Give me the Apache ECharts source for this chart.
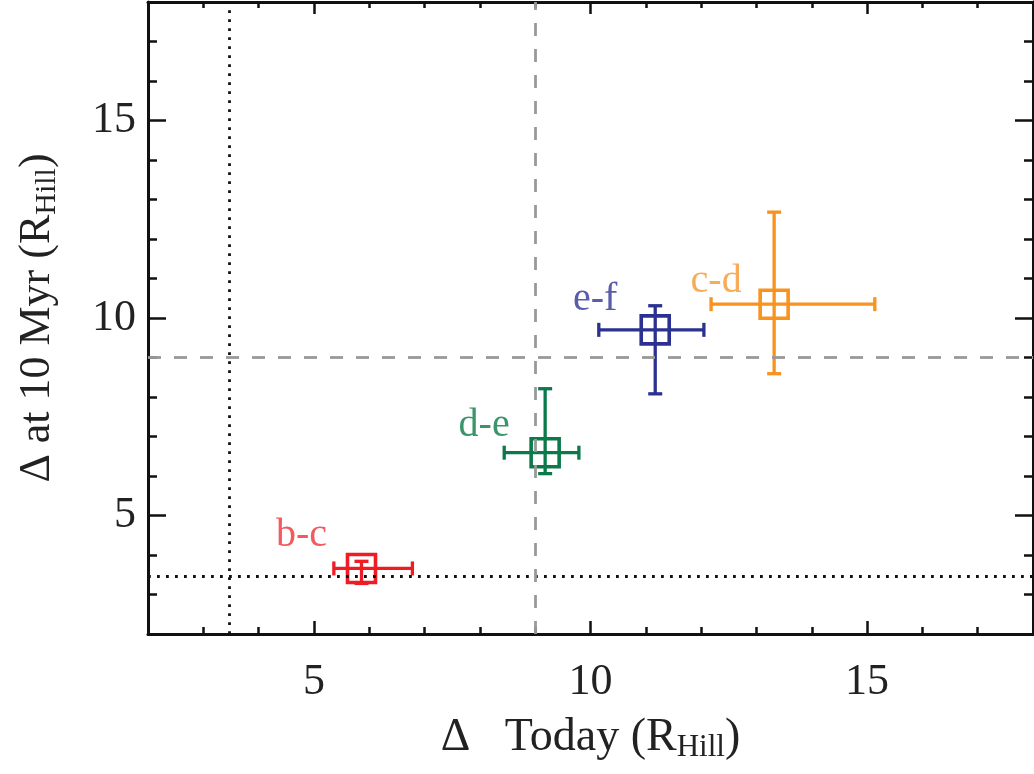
<!DOCTYPE html>
<html>
<head>
<meta charset="utf-8">
<title>Planet pair spacing</title>
<script src="https://cdn.jsdelivr.net/npm/echarts@6/dist/echarts.min.js"></script>
<style>
  html, body { margin: 0; padding: 0; background: #fff; }
  #chart { width: 1034px; height: 774px; }
</style>
</head>
<body>
<div id="chart"></div>
<script>
// Adjacent planet pairs: separation today vs. separation after 10 Myr (mutual Hill radii)
const pairs       = ['b-c', 'd-e', 'e-f', 'c-d'];
const deltaToday  = [5.86, 9.18, 11.17, 13.32];
const todayLow    = [5.36, 8.44, 10.15, 12.18];
const todayHigh   = [6.78, 9.79, 12.05, 15.14];
const delta10Myr  = [3.66, 6.59, 9.70, 10.35];
const myrLow      = [3.28, 6.06, 8.08, 8.59];
const myrHigh     = [3.84, 8.21, 10.31, 12.68];
const markColors  = ['#ee1c25', '#0b7a4b', '#2b3190', '#f7931e'];
const labelColors = ['#f25a5e', '#3b946a', '#5a5daa', '#f8ac58'];
// pixel offset of each pair's name from its marker
const labelShift  = [[-60, -33], [-61, -27], [-60, -30], [-58, -23]];

// Reference separations
const hillCritical = 3.46;   // 2*sqrt(3)
const stableLimit  = 9;

// Axis range and ticks
const axisMin = 2, axisMax = 18;
const majorTicks = [5, 10, 15];
const minorTicks = [3, 4, 6, 7, 8, 9, 11, 12, 13, 14, 16, 17];

const serif = '"Liberation Serif", "DejaVu Serif", serif';
const black = '#111';

const rows = pairs.map((p, i) => [deltaToday[i], delta10Myr[i], todayLow[i], todayHigh[i], myrLow[i], myrHigh[i], i]);

function tickAxis(dim, position, values, len, withLine, withLabels) {
  const ax = {
    type: 'value', position: position, min: axisMin, max: axisMax,
    axisLine: { show: withLine, onZero: false, lineStyle: { color: black, width: 3 } },
    axisTick: { show: true, inside: true, length: len, customValues: values,
                lineStyle: { color: black, width: 2.5 } },
    axisLabel: { show: false },
    splitLine: { show: false }
  };
  if (withLabels) {
    ax.axisLabel = {
      show: true, customValues: values, fontFamily: serif, fontSize: 44,
      color: '#222', margin: dim === 'x' ? 26 : 12
    };
  }
  return ax;
}

const xAxes = [
  tickAxis('x', 'bottom', majorTicks, 13, true, true),
  tickAxis('x', 'bottom', minorTicks, 7, false, false),
  tickAxis('x', 'top', majorTicks, 12, true, false),
  tickAxis('x', 'top', minorTicks, 6, false, false)
];
const yAxes = [
  tickAxis('y', 'left', majorTicks, 18, true, true),
  tickAxis('y', 'left', minorTicks, 9, false, false),
  tickAxis('y', 'right', majorTicks, 18, true, false),
  tickAxis('y', 'right', minorTicks, 9, false, false)
];

function titleRich(size) {
  return {
    a: { fontFamily: serif, fontSize: size, color: '#222', lineHeight: 50, verticalAlign: 'middle' },
    s: { fontFamily: serif, fontSize: Math.round(size * 0.68), color: '#222', lineHeight: 25, verticalAlign: 'bottom' }
  };
}
xAxes[0].name = '{a|\u0394   Today (R}{s|Hill}{a|)}';
xAxes[0].nameLocation = 'middle';
xAxes[0].nameGap = 79;
xAxes[0].nameTextStyle = { rich: titleRich(46) };
yAxes[0].name = '{a|\u0394 at 10 Myr (R}{s|Hill}{a|)}';
yAxes[0].nameLocation = 'middle';
yAxes[0].nameGap = 86;
yAxes[0].nameTextStyle = { rich: titleRich(44) };

function renderPair(params, api) {
  const i = api.value(6);
  const c = api.coord([api.value(0), api.value(1)]);
  const xl = api.coord([api.value(2), api.value(1)])[0];
  const xh = api.coord([api.value(3), api.value(1)])[0];
  const yl = api.coord([api.value(0), api.value(4)])[1];
  const yh = api.coord([api.value(0), api.value(5)])[1];
  const cap = 7, half = 14;
  const st = { stroke: markColors[i], lineWidth: 3.3, fill: null };
  const seg = (x1, y1, x2, y2) => ({ type: 'line', shape: { x1, y1, x2, y2 }, style: st });
  return {
    type: 'group',
    children: [
      seg(xl, c[1], xh, c[1]),
      seg(xl, c[1] - cap, xl, c[1] + cap),
      seg(xh, c[1] - cap, xh, c[1] + cap),
      seg(c[0], yl, c[0], yh),
      seg(c[0] - cap, yl, c[0] + cap, yl),
      seg(c[0] - cap, yh, c[0] + cap, yh),
      { type: 'rect', shape: { x: c[0] - half, y: c[1] - half, width: 2 * half, height: 2 * half },
        style: { stroke: markColors[i], lineWidth: 3.6, fill: null } },
      { type: 'text', x: c[0] + labelShift[i][0], y: c[1] + labelShift[i][1],
        style: { text: pairs[i], fill: labelColors[i], font: '40px ' + serif,
                 align: 'center', verticalAlign: 'middle' } }
    ]
  };
}

const dotted = { color: black, width: 2.8, type: [2.8, 6.2] };
const dashed = { color: '#999', width: 2.8, type: [13, 13] };

const option = {
  animation: false,
  backgroundColor: '#fff',
  grid: { left: 148, right: 1, top: 2, bottom: 140, containLabel: false },
  xAxis: xAxes,
  yAxis: yAxes,
  series: [{
    type: 'custom',
    xAxisIndex: 0, yAxisIndex: 0,
    data: rows,
    renderItem: renderPair,
    clip: false,
    z: 3,
    markLine: {
      silent: true, symbol: ['none', 'none'], label: { show: false },
      emphasis: { disabled: true },
      data: [
        { xAxis: hillCritical, lineStyle: dotted },
        { yAxis: hillCritical, lineStyle: dotted },
        { xAxis: stableLimit, lineStyle: dashed },
        { yAxis: stableLimit, lineStyle: dashed }
      ]
    }
  }]
};

const chart = echarts.init(document.getElementById('chart'), null, { renderer: 'canvas' });
chart.setOption(option);
</script>
</body>
</html>
